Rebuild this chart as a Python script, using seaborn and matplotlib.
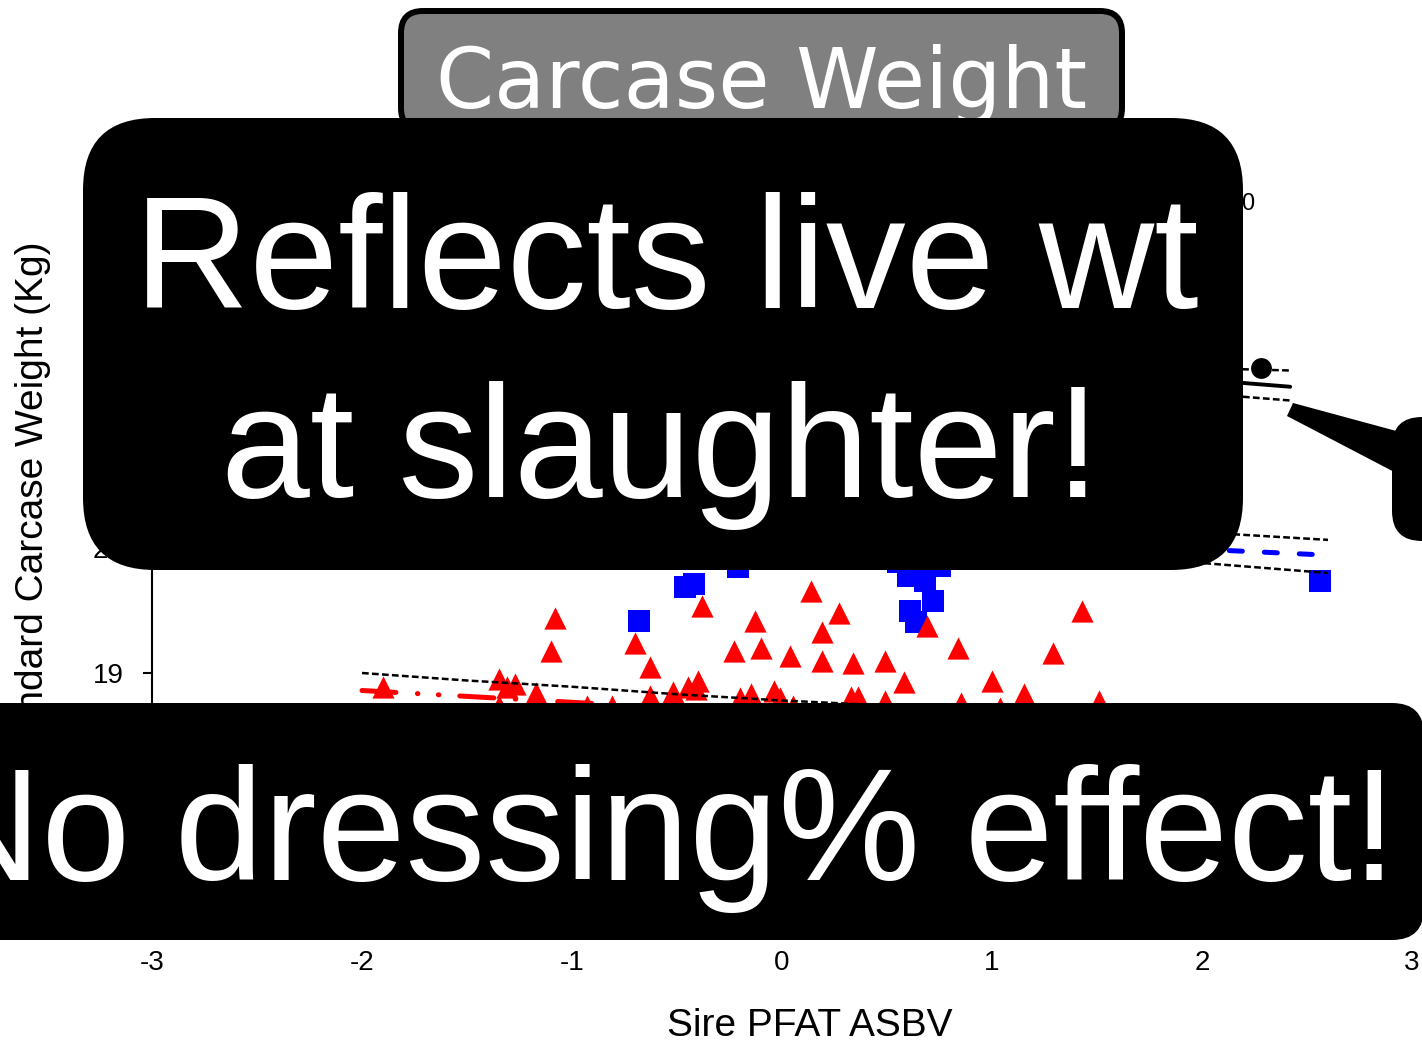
import matplotlib
matplotlib.use("Agg")
import matplotlib.pyplot as plt
import seaborn as sns
from matplotlib.patches import FancyBboxPatch, Polygon
from matplotlib.transforms import IdentityTransform

# ================================================================
# DATA (most of the cloud sits under the boxes)
# ================================================================
red_x = [-1.90, -1.08, -1.10, -1.35, -1.31, -1.27, -1.17, -1.35, -0.93, -0.81,
         -0.70, -0.63, -0.63, -0.52, -0.40, -0.45, -0.41, -0.38, -0.23, -0.20,
         -0.15, -0.13, -0.10, -0.04, -0.01, 0.04, 0.05, 0.14, 0.19, 0.19,
         0.27, 0.33, 0.36, 0.34, 0.49, 0.49, 0.58, 0.69, 0.84, 0.85,
         1.00, 1.04, 1.15, 1.29, 1.43, 1.51]
red_y = [18.89, 19.44, 19.18, 18.95, 18.89, 18.91, 18.84, 18.74, 18.74, 18.74,
         19.24, 19.05, 18.82, 18.85, 18.94, 18.89, 18.87, 19.54, 19.18, 18.80,
         18.83, 19.42, 19.20, 18.86, 18.80, 19.14, 18.74, 19.66, 19.33, 19.10,
         19.48, 18.81, 18.81, 19.08, 19.10, 18.78, 18.93, 19.38, 19.20, 18.76,
         18.94, 18.72, 18.83, 19.16, 19.50, 18.78]

blue_x = [-0.68, -0.46, -0.42, -0.21, 0.55, 0.60, 0.68, 0.75, 0.72, 0.61, 0.64, 2.56]
blue_y = [19.42, 19.69, 19.71, 19.85, 19.89, 19.78, 19.74, 19.86, 19.58, 19.50, 19.41, 19.74]

black_x = [2.28]
black_y = [21.44]

# regression lines and 95% bands
red_fit_x = [-2.0, 1.5]
red_fit_y = [18.86, 18.53]
red_ci_x = [-2.0, -1.5, -1.0, -0.5, 0.0, 0.5, 1.0, 1.5]
red_ci_hi = [19.00, 18.94, 18.89, 18.83, 18.78, 18.74, 18.70, 18.67]
red_ci_lo = [18.72, 18.68, 18.65, 18.61, 18.56, 18.52, 18.46, 18.39]

blue_fit_x = [-0.7, 2.57]
blue_fit_y = [20.20, 19.945]
blue_ci_x = [-0.7, 0.0, 0.6, 1.2, 1.8, 2.15, 2.6]
blue_ci_hi = [20.40, 20.25, 20.17, 20.13, 20.12, 20.11, 20.065]
blue_ci_lo_x = [-0.7, 0.0, 0.6, 1.2, 1.8, 2.0, 2.6]
blue_ci_lo = [20.00, 20.04, 20.03, 19.97, 19.90, 19.88, 19.80]

black_fit_x = [0.2, 2.42]
black_fit_y = [21.59, 21.29]
black_ci_x = [0.2, 2.195, 2.42]
black_ci_hi = [21.75, 21.43, 21.42]
black_ci_lo = [21.45, 21.21, 21.18]

x_ticks = [-3, -2, -1, 0, 1, 2, 3]
y_ticks = [17, 18, 19, 20, 21, 22, 23]

# ================================================================
# STYLE
# ================================================================
sns.set_style("ticks")
plt.rcParams["font.family"] = ["Liberation Sans", "DejaVu Sans"]
plt.rcParams["axes.unicode_minus"] = False
plt.rcParams["text.color"] = "black"
plt.rcParams["axes.labelcolor"] = "black"

W, H = 1422, 1043
fig = plt.figure(figsize=(W / 100, H / 100), dpi=100)
fig.patch.set_facecolor("white")
ax = fig.add_axes([152 / W, 120 / H, 1260 / W, 750 / H])

# ================================================================
# SCATTER
# ================================================================
sns.scatterplot(x=blue_x, y=blue_y, marker="s", s=256, color="#0000ff",
                linewidth=0, ax=ax, zorder=2)
sns.scatterplot(x=red_x, y=red_y, marker="^", s=256, color="#ff0000",
                linewidth=0, ax=ax, zorder=3)
sns.scatterplot(x=black_x, y=black_y, marker="o", s=225, color="black",
                linewidth=0, ax=ax, zorder=3)

# fitted lines
ax.plot(red_fit_x, red_fit_y, color="#ff0000", lw=3.6, zorder=4,
        linestyle=(0, (6.8, 4.3, 0.1, 4.1, 0.1, 4.2)), dash_capstyle="round")
ax.plot(blue_fit_x, blue_fit_y, color="#0000ff", lw=3.6, zorder=4,
        linestyle=(0, (2.6, 4.4)), dash_capstyle="round")
ax.plot(black_fit_x, black_fit_y, color="black", lw=2.8, zorder=4,
        solid_capstyle="round")

# confidence bands
ci_style = dict(color="black", lw=1.8, linestyle=(0, (2.7, 1.3)), zorder=5)
ax.plot(red_ci_x, red_ci_hi, **ci_style)
ax.plot(red_ci_x, red_ci_lo, **ci_style)
ax.plot(blue_ci_x, blue_ci_hi, **ci_style)
ax.plot(blue_ci_lo_x, blue_ci_lo, **ci_style)
ax.plot(black_ci_x, black_ci_hi, **ci_style)
ax.plot(black_ci_x, black_ci_lo, **ci_style)

ax.set_xlim(-3, 3)
ax.set_ylim(17, 23)
ax.set_xticks(x_ticks)
ax.set_yticks(y_ticks)
sns.despine(ax=ax)
for sp in ["left", "bottom"]:
    ax.spines[sp].set_linewidth(1.5)
    ax.spines[sp].set_color("black")
ax.tick_params(axis="both", direction="out", length=6.5, width=1.5,
               labelsize=20, colors="black")
ax.tick_params(axis="y", pad=14)
ax.tick_params(axis="x", pad=13)

ax.set_xlabel("Sire PFAT ASBV", fontsize=28, color="black")
ax.set_ylabel("Standard Carcase Weight (Kg)", fontsize=28, color="black")
ax.xaxis.set_label_coords(0.522, -0.113)
ax.yaxis.set_label_coords(-0.08, 0.557)
ax.text((1254 - 152) / 1260, (923 - 210) / 750, "0", transform=ax.transAxes,
        fontsize=17, ha="right", va="baseline", color="black")


# ================================================================
# SLIDE OVERLAYS (pixel coords, y measured from the top)
# ================================================================
def box(x0, y0, x1, y1, r, **kw):
    p = FancyBboxPatch((x0, H - y1), x1 - x0, y1 - y0,
                       boxstyle=f"round,pad=0,rounding_size={r}",
                       transform=IdentityTransform(), **kw)
    fig.add_artist(p)
    return p


# title
box(401, 11, 1122, 130, 22, facecolor="#808080", edgecolor="black", lw=4.3, zorder=2)
fig.text(762 / W, 1 - 108 / H, "Carcase Weight", color="white", fontsize=60,
         ha="center", va="baseline", family=["DejaVu Sans"], zorder=2.5)

# callouts
box(83, 118, 1243, 570, 72, facecolor="black", edgecolor="none", zorder=3)
box(-60, 703, 1424, 940, 32, facecolor="black", edgecolor="none", zorder=3)
box(1392, 417, 1600, 541, 30, facecolor="black", edgecolor="none", zorder=3)
wedge = Polygon([(1287, H - 416), (1293, H - 403), (1400, H - 432), (1400, H - 475)],
                closed=True, facecolor="black", edgecolor="none",
                transform=IdentityTransform(), zorder=3)
fig.add_artist(wedge)

big = dict(color="white", fontsize=115, ha="center", va="baseline", zorder=4)
fig.text(666 / W, 1 - 308 / H, "Reflects live wt", **big)
fig.text(661 / W, 1 - 497 / H, "at slaughter!", **big)
fig.text(661 / W, 1 - 880 / H, "No dressing% effect!", **big)

fig.savefig("out.png", dpi=100)
plt.close()
